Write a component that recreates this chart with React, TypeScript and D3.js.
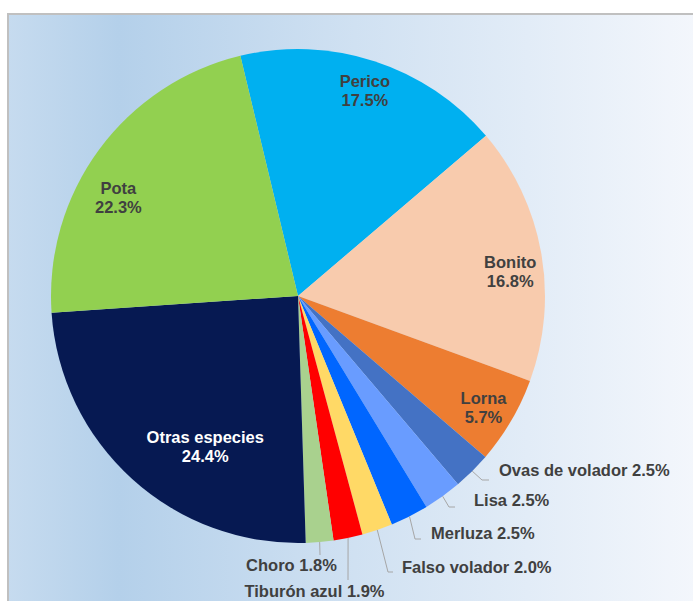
import React from "react";
import * as d3 from "d3";

const categories = ["Perico", "Bonito", "Lorna", "Ovas de volador", "Lisa", "Merluza", "Falso volador", "Tiburón azul", "Choro", "Otras especies", "Pota"];
const values = [17.5, 16.8, 5.7, 2.5, 2.5, 2.5, 2.0, 1.9, 1.8, 24.4, 22.3];
const colors = ["#00b0f0", "#f8cbad", "#ed7d31", "#4472c4", "#699cff", "#0066ff", "#ffd966", "#ff0000", "#a9d18e", "#061952", "#92d050"];
const insideLabel = [true, true, true, false, false, false, false, false, false, true, true];
const labelColors = ["#404040", "#404040", "#404040", "#404040", "#404040", "#404040", "#404040", "#404040", "#404040", "#ffffff", "#404040"];

// layout for labels (pixels)
const W = 693, H = 601;
const CX = 298, CY = 296, R = 247;
const START = -13.5 * Math.PI / 180;
// inside label: [radius factor, angle shift deg]
const insideLayout: Record<string, [number, number]> = {
  "Perico": [0.875, 0],
  "Bonito": [0.865, 3.5],
  "Lorna": [0.875, 0.5],
  "Otras especies": [0.715, -10.5],
  "Pota": [0.83, -7.5],
};
// outside labels: text anchor, anchor type, elbow, end
const outsideLayout: Record<string, { tx: number; ty: number; anchor: string; elbow: [number, number]; end: [number, number] }> = {
  "Ovas de volador": { tx: 499, ty: 470, anchor: "start", elbow: [482, 480], end: [489, 480] },
  "Lisa": { tx: 474, ty: 500, anchor: "start", elbow: [449, 507], end: [455, 507] },
  "Merluza": { tx: 431, ty: 533, anchor: "start", elbow: [415, 539], end: [421, 539] },
  "Falso volador": { tx: 402, ty: 567, anchor: "start", elbow: [388, 572], end: [393, 572] },
  "Tiburón azul": { tx: 314.5, ty: 591, anchor: "middle", elbow: [348, 580], end: [348, 580] },
  "Choro": { tx: 291.5, ty: 565, anchor: "middle", elbow: [320, 555], end: [320, 555] },
};

export default function App() {
  const data = categories.map((c, i) => ({ name: c, value: values[i], color: colors[i], inside: insideLabel[i], lc: labelColors[i] }));
  const pie = d3.pie<any>().value((d) => d.value).sort(null).startAngle(START).endAngle(START + 2 * Math.PI);
  const arcs = pie(data);
  const arc = d3.arc<any>().innerRadius(0).outerRadius(R);
  const font = "'Liberation Sans', Arial, sans-serif";
  const fs = 16.5;

  return (
    <svg width={W} height={H} style={{ position: "absolute", left: 0, top: 0 }} fontFamily={font}>
      <defs>
        <linearGradient id="bg" x1="0" y1="0" x2="1" y2="0">
          <stop offset="0" stopColor="#c6dbef" />
          <stop offset="0.16" stopColor="#b4d0ea" />
          <stop offset="0.5" stopColor="#d0e1f2" />
          <stop offset="1" stopColor="#f4f7fc" />
        </linearGradient>
      </defs>
      <rect x={0} y={0} width={W} height={H} fill="#ffffff" />
      <rect x={8} y={14} width={W} height={H} fill="url(#bg)" stroke="#c0c0c0" strokeWidth={2} />
      <g transform={`translate(${CX},${CY})`}>
        {arcs.map((a, i) => (
          <path key={i} d={arc(a) as string} fill={a.data.color} />
        ))}
      </g>
      {arcs.map((a, i) => {
        const name = a.data.name;
        const pct = d3.format(".1f")(a.data.value) + "%";
        if (a.data.inside) {
          const [rf, shift] = insideLayout[name];
          const mid = (a.startAngle + a.endAngle) / 2 + (shift * Math.PI) / 180;
          const x = CX + Math.sin(mid) * R * rf;
          const y = CY - Math.cos(mid) * R * rf;
          return (
            <text key={i} x={x} y={y} textAnchor="middle" fontSize={fs} fontWeight="bold" fill={a.data.lc}>
              <tspan x={x} dy="-0.2em">{name}</tspan>
              <tspan x={x} dy="1.17em">{pct}</tspan>
            </text>
          );
        }
        const L = outsideLayout[name];
        const mid = (a.startAngle + a.endAngle) / 2;
        const ex = CX + Math.sin(mid) * R;
        const ey = CY - Math.cos(mid) * R;
        const pts: [number, number][] = [[ex, ey], L.elbow, L.end];
        return (
          <g key={i}>
            <path d={d3.line()(pts) as string} fill="none" stroke="#a6a6a6" strokeWidth={1} />
            <text x={L.tx} y={L.ty} dy="0.35em" textAnchor={L.anchor} fontSize={fs} fontWeight="bold" fill={a.data.lc}>
              {name} {pct}
            </text>
          </g>
        );
      })}
    </svg>
  );
}
